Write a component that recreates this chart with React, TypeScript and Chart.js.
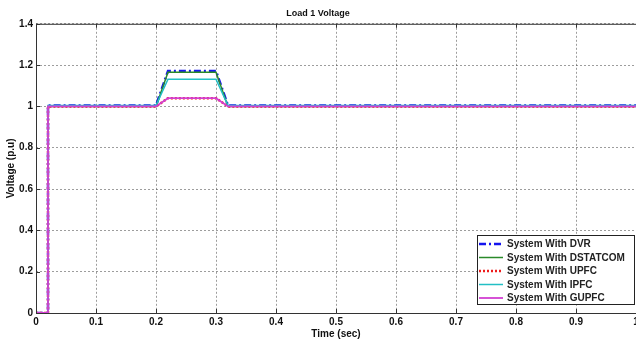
import React, { useEffect, useRef } from "react";
import { Chart, registerables } from "chart.js";

Chart.register(...registerables);

const chartTitle = "Load 1 Voltage";
const xTitle = "Time (sec)";
const yTitle = "Voltage (p.u)";

const time = [0, 0.02, 0.02, 0.2, 0.22, 0.3, 0.32, 1];
const dvr = [0, 0, 1.004, 1.004, 1.172, 1.172, 1.004, 1.004];
const dstatcom = [0, 0, 1.0, 1.0, 1.165, 1.165, 1.0, 1.0];
const upfc = [0, 0, 1.0, 1.0, 1.04, 1.04, 1.0, 1.0];
const ipfc = [0, 0, 1.004, 1.004, 1.132, 1.132, 1.004, 1.004];
const gupfc = [0, 0, 1.0, 1.0, 1.04, 1.04, 1.0, 1.0];

const seriesLabels = [
  "System With DVR",
  "System With DSTATCOM",
  "System With UPFC",
  "System With IPFC",
  "System With GUPFC",
];

const FONT = "'Liberation Sans', Arial, sans-serif";

const legendBox = {
  id: "legendBox",
  afterDraw(chart: any) {
    const { ctx, chartArea } = chart;
    const right = chartArea.right - 1;
    const bottom = chartArea.bottom - 8;
    const w = 158;
    const h = 70;
    const left = right - w;
    const top = bottom - h;
    ctx.save();
    ctx.fillStyle = "#ffffff";
    ctx.fillRect(left, top, w, h);
    ctx.strokeStyle = "#222";
    ctx.lineWidth = 1;
    ctx.strokeRect(left + 0.5, top + 0.5, w - 1, h - 1);
    ctx.font = `bold 10px ${FONT}`;
    ctx.textBaseline = "middle";
    ctx.fillStyle = "#222";
    chart.data.datasets.forEach((ds: any, i: number) => {
      const y = top + 9 + i * 13.5;
      ctx.save();
      ctx.strokeStyle = ds.borderColor;
      ctx.lineWidth = ds.borderWidth;
      ctx.setLineDash(ds.borderDash || []);
      ctx.beginPath();
      ctx.moveTo(left + 2, y);
      ctx.lineTo(left + 26, y);
      ctx.stroke();
      ctx.restore();
      ctx.fillText(ds.label, left + 30, y + 0.5);
    });
    ctx.restore();
  },
};

const frame = {
  id: "frame",
  afterDatasetsDraw(chart: any) {
    const { ctx, chartArea, scales } = chart;
    ctx.save();
    ctx.strokeStyle = "#333";
    ctx.lineWidth = 1;
    ctx.beginPath();
    ctx.moveTo(chartArea.left + 0.5, chartArea.top + 0.5);
    ctx.lineTo(chartArea.right, chartArea.top + 0.5);
    ctx.moveTo(chartArea.left + 0.5, chartArea.top);
    ctx.lineTo(chartArea.left + 0.5, chartArea.bottom + 0.5);
    ctx.lineTo(chartArea.right, chartArea.bottom + 0.5);
    ctx.stroke();
    ctx.beginPath();
    scales.x.ticks.forEach((t: any) => {
      const px = Math.round(scales.x.getPixelForValue(t.value)) + 0.5;
      ctx.moveTo(px, chartArea.bottom);
      ctx.lineTo(px, chartArea.bottom - 4);
      ctx.moveTo(px, chartArea.top);
      ctx.lineTo(px, chartArea.top + 4);
    });
    scales.y.ticks.forEach((t: any) => {
      const py = Math.round(scales.y.getPixelForValue(t.value)) + 0.5;
      ctx.moveTo(chartArea.left, py);
      ctx.lineTo(chartArea.left + 4, py);
    });
    ctx.stroke();
    ctx.restore();
  },
};

export default function App() {
  const ref = useRef<HTMLCanvasElement>(null);
  useEffect(() => {
    const series = [dvr, dstatcom, upfc, ipfc, gupfc];
    const styles = [
      { color: "#1515ee", width: 2.5, dash: [7, 3, 2, 3] },
      { color: "#2a8a2a", width: 1.5, dash: [] },
      { color: "#ee1c1c", width: 2.5, dash: [2, 2] },
      { color: "#22bfc4", width: 1.5, dash: [] },
      { color: "#d23fd2", width: 1.8, dash: [] },
    ];
    const chart = new Chart(ref.current!, {
      type: "line",
      data: {
        datasets: series.map((vals, i) => ({
          label: seriesLabels[i],
          data: time.map((t, k) => ({ x: t, y: vals[k] })),
          borderColor: styles[i].color,
          backgroundColor: styles[i].color,
          borderWidth: styles[i].width,
          borderDash: styles[i].dash,
          pointRadius: 0,
          tension: 0,
          fill: false,
          order: series.length - i,
        })),
      },
      options: {
        animation: false,
        responsive: false,
        maintainAspectRatio: false,
        layout: { padding: 0 },
        plugins: {
          legend: { display: false },
          tooltip: { enabled: false },
          title: {
            display: true,
            text: chartTitle,
            color: "#111",
            font: { family: FONT, size: 9, weight: "bold" },
            padding: { top: 8, bottom: 5 },
          },
        },
        scales: {
          x: {
            type: "linear",
            min: 0,
            max: 1,
            afterFit(s: any) {
              s.height = 28;
              s.paddingRight = 0;
              s.paddingLeft = 0;
            },
            ticks: {
              stepSize: 0.1,
              color: "#111",
              padding: 3,
              maxRotation: 0,
              autoSkip: false,
              font: { family: FONT, size: 10, weight: "bold" },
              callback: (v: any) => String(Math.round(Number(v) * 10) / 10),
            },
            grid: { color: "rgba(60,60,60,0.5)", drawTicks: false },
            border: { display: false, dash: [2, 2] },
            title: {
              display: true,
              text: xTitle,
              color: "#111",
              font: { family: FONT, size: 10, weight: "bold" },
              padding: { top: 0, bottom: 1 },
            },
          },
          y: {
            min: 0,
            max: 1.4,
            afterFit(s: any) {
              s.width = 36;
              s.paddingTop = 0;
              s.paddingBottom = 0;
            },
            ticks: {
              stepSize: 0.2,
              color: "#111",
              padding: 3,
              font: { family: FONT, size: 10, weight: "bold" },
              callback: (v: any) => String(Math.round(Number(v) * 10) / 10),
            },
            grid: { color: "rgba(60,60,60,0.5)", drawTicks: false },
            border: { display: false, dash: [2, 2] },
            title: {
              display: true,
              text: yTitle,
              color: "#111",
              font: { family: FONT, size: 10, weight: "bold" },
              padding: { top: 5, bottom: 0 },
            },
          },
        },
      },
      plugins: [frame, legendBox],
    });
    return () => chart.destroy();
  }, []);
  return (
    <div style={{ position: "absolute", left: 0, top: 0, width: 636, height: 341, background: "#fff" }}>
      <canvas ref={ref} width={636} height={341} style={{ display: "block" }} />
    </div>
  );
}
